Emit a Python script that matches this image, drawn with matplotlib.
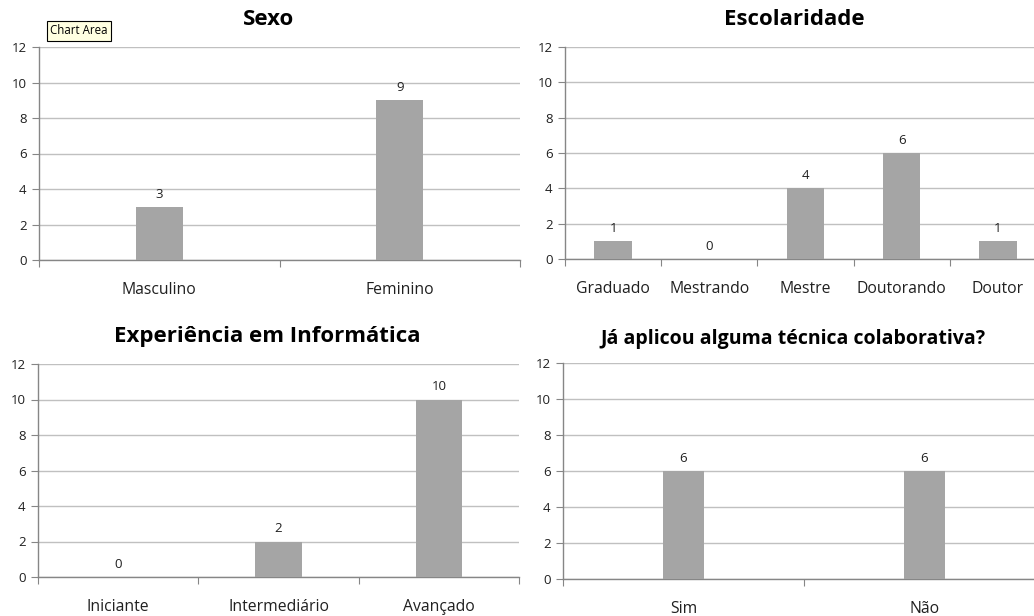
import matplotlib
matplotlib.use("Agg")
import matplotlib.pyplot as plt

plt.rcParams['font.family'] = ['Open Sans', 'DejaVu Sans']

# data
sexo_cats = ['Masculino', 'Feminino']
sexo_vals = [3, 9]

escol_cats = ['Graduado', 'Mestrando', 'Mestre', 'Doutorando', 'Doutor']
escol_vals = [1, 0, 4, 6, 1]

exper_cats = ['Iniciante', 'Intermediário', 'Avançado']
exper_vals = [0, 2, 10]

colab_cats = ['Sim', 'Não']
colab_vals = [6, 6]

bar_color = '#a5a5a5'
grid_color = '#c0c0c0'
axis_color = '#868686'

W, H = 1034, 616
fig = plt.figure(figsize=(W / 100, H / 100), dpi=100)


def px_axes(x0, x1, ytop, ybot):
    return fig.add_axes([x0 / W, 1 - ybot / H, (x1 - x0) / W, (ybot - ytop) / H])


def draw(ax, cats, vals, title, width, title_size=16, title_pad=16):
    n = len(cats)
    xs = list(range(n))
    ax.bar(xs, vals, width=width, color=bar_color, zorder=3)
    ax.set_xlim(-0.5, n - 0.5)
    ax.set_ylim(0, 12)
    ax.set_yticks(range(0, 13, 2))
    ax.yaxis.grid(True, color=grid_color, linewidth=1)
    ax.set_axisbelow(True)
    for s in ['top', 'right']:
        ax.spines[s].set_visible(False)
    for s in ['left', 'bottom']:
        ax.spines[s].set_color(axis_color)
        ax.spines[s].set_linewidth(1)
    # ticks sit on the category boundaries, labels in the middle
    ax.set_xticks([i + 0.5 for i in range(-1, n)])
    ax.set_xticklabels([])
    ax.set_xticks(xs, minor=True)
    ax.set_xticklabels(cats, minor=True, fontsize=11.3, color='#202020')
    ax.tick_params(axis='x', which='major', length=5, color=axis_color, direction='out')
    ax.tick_params(axis='x', which='minor', length=0, pad=15.5)
    ax.tick_params(axis='y', length=5, color=axis_color, labelsize=9.5, pad=4,
                   labelcolor='#202020')
    for x, v in zip(xs, vals):
        ax.annotate(str(v), (x, v), xytext=(0, 4.5), textcoords='offset points',
                    ha='center', va='bottom', fontsize=9.5, color='#202020')
    # Excel centres the title on the whole chart area, a bit left of the plot area
    ax.set_title(title, fontsize=title_size, fontweight='bold', pad=title_pad,
                 x=0.5 - 11 / 481)


ax1 = px_axes(39, 520, 47, 260)
draw(ax1, sexo_cats, sexo_vals, 'Sexo', 0.195)

ax2 = px_axes(565, 1046, 47, 259)
draw(ax2, escol_cats, escol_vals, 'Escolaridade', 0.39)

ax3 = px_axes(38, 519, 364, 577)
draw(ax3, exper_cats, exper_vals, 'Experiência em Informática', 0.29)

ax4 = px_axes(563, 1045, 363, 579)
draw(ax4, colab_cats, colab_vals, 'Já aplicou alguma técnica colaborativa?', 0.17,
     title_size=14, title_pad=14)

# tooltip left in the screenshot
fig.text(50 / W, 1 - 31 / H, 'Chart Area', fontsize=8.3, va='center', ha='left',
         bbox=dict(boxstyle='square,pad=0.3', facecolor='#ffffe1', edgecolor='black', linewidth=0.8))

fig.savefig('out.png', dpi=100)
